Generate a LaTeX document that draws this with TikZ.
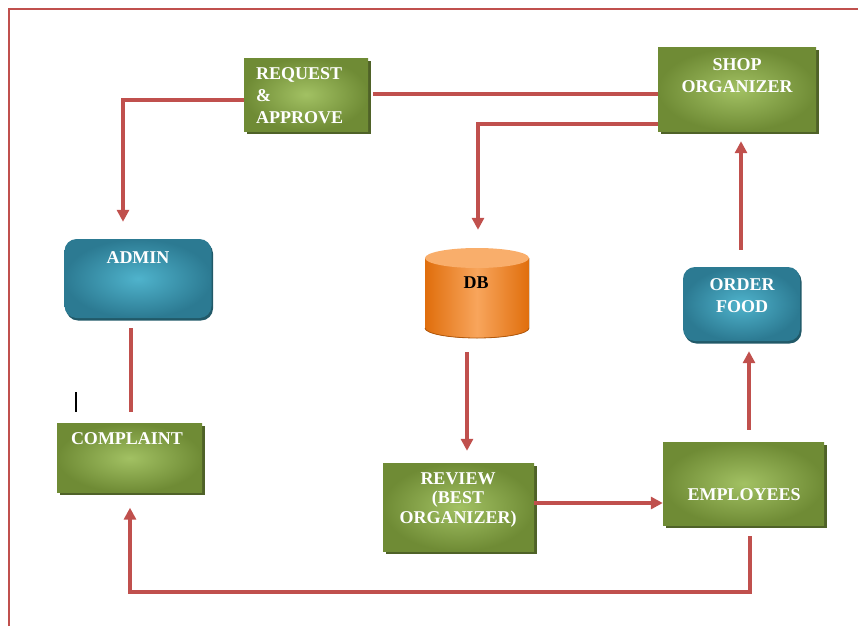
\documentclass[tikz,border=0pt]{standalone}
\usepackage{fontspec}
\setmainfont{Liberation Serif}
\usetikzlibrary{arrows.meta,shadows,calc}
\definecolor{lred}{HTML}{C0504D}
\definecolor{gin}{HTML}{A2C163}
\definecolor{gout}{HTML}{6F8B35}
\definecolor{gsh}{HTML}{4F6228}
\definecolor{bin}{HTML}{4FB3CC}
\definecolor{bout}{HTML}{2C7A92}
\definecolor{bsh}{HTML}{215968}
\definecolor{oin}{HTML}{F8A55C}
\definecolor{oout}{HTML}{E06E0C}
\definecolor{otop}{HTML}{F9AE6B}
\begin{document}
\begin{tikzpicture}[x=1pt,y=-1pt,
 gbox/.style={rectangle, inner sep=0, inner color=gin, outer color=gout,
   drop shadow={shadow xshift=2.5pt, shadow yshift=-2.5pt, fill=gsh, opacity=1}},
 bbox/.style={rectangle, rounded corners=12pt, inner sep=0, inner color=bin, outer color=bout,
   drop shadow={shadow xshift=1.5pt, shadow yshift=-2.5pt, fill=bsh, opacity=1}},
 lbl/.style={text=white, font=\fontsize{18}{22}\selectfont\bfseries, align=center, inner sep=0},
 conn/.style={draw=lred, line width=3.6pt},
 arr/.style={conn, -{Triangle[length=12pt,width=12pt]}},
]
\useasboundingbox (0,0) rectangle (858,626);
% border
\draw[lred, line width=2pt] (9,626) -- (9,9) -- (858,9);

% boxes
\node[gbox, minimum width=124pt, minimum height=73pt] (req) at (306,94.5) {};
\node[gbox, minimum width=158pt, minimum height=83pt] (shop) at (737,89.5) {};
\node[bbox, minimum width=147pt, minimum height=79pt] (admin) at (138,278.5) {};
\node[gbox, minimum width=145pt, minimum height=69pt] (compl) at (129.5,458) {};
\node[gbox, minimum width=151pt, minimum height=88pt] (review) at (458.5,507) {};
\node[gbox, minimum width=161pt, minimum height=83pt] (emp) at (743.5,483.5) {};
\node[bbox, minimum width=117pt, minimum height=74pt] (order) at (741.5,304) {};

% database cylinder
\fill[left color=oout, right color=oout, middle color=oin]
  (425,258) -- (425,328) arc[start angle=180, end angle=0, x radius=52, y radius=10] -- (529,258) -- cycle;
\draw[oout!80!black, line width=0.8pt] (425,328) arc[start angle=180, end angle=0, x radius=52, y radius=10];
\fill[otop] (477,258) ellipse[x radius=52, y radius=10];
\node[minimum width=104pt, minimum height=90pt, inner sep=0] (db) at (477,293) {};

% texts
\node[lbl, align=left, anchor=west] (reqt) at (256,96) {REQUEST\\\&\\APPROVE};
\node[lbl] (shopt) at (737,76) {SHOP\\ORGANIZER};
\node[lbl] (admint) at (138,258) {ADMIN};
\node[lbl] (complt) at (127,439) {COMPLAINT};
\node[lbl, text=black] (dbt) at (476,283) {DB};
\node[lbl] (ordert) at (742,296) {ORDER\\FOOD};
\node[lbl, font=\fontsize{18}{19.5}\selectfont\bfseries] (reviewt) at (458,500) {REVIEW\\(BEST\\ORGANIZER)};
\node[lbl] (empt) at (744,495) {EMPLOYEES};

% cursor mark
\draw[black, line width=1.3pt] (76,392) -- (76,412);

% connectors
\draw[arr] ($(req.west)+(0,5.5)$) -| ($(admin.north)+(-15,-17)$);
\draw[conn] ($(req.east)+(5,-0.5)$) -- ($(shop.west)+(0,4.5)$);
\draw[arr] ($(shop.west)+(0,34.5)$) -| ($(db.north)+(1,-18)$);
\draw[conn] ($(admin.south)+(-7,10)$) -- ($(compl.north)+(1.5,-11)$);
\draw[arr] ($(db.south)+(-10,14)$) -- ($(review.north)+(8.5,-12)$);
\draw[arr] ($(review.east)+(0,-4)$) -- ($(emp.west)+(0,19.5)$);
\draw[arr] ($(emp.north)+(5.5,-12)$) -- ($(order.south)+(7.5,10)$);
\draw[arr] ($(order.north)+(-0.5,-17)$) -- ($(shop.south)+(4,10)$);
\draw[arr] ($(emp.south)+(6.5,11)$) -- ++(0,56) -| ($(compl.south)+(0.5,15)$);
\end{tikzpicture}
\end{document}
